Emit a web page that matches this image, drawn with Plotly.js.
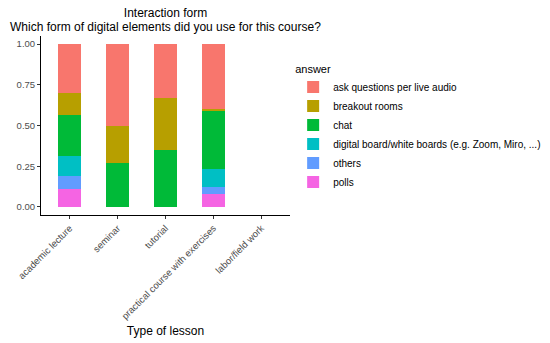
<!DOCTYPE html>
<html>
<head>
<meta charset="utf-8">
<script src="https://cdn.plot.ly/plotly-3.0.1.min.js"></script>
<style>html,body{margin:0;padding:0;background:#fff}#chart{width:550px;height:343px}</style>
</head>
<body>
<div id="chart"></div>
<script>
const categories = ["academic lecture", "seminar", "tutorial", "practical course with exercises", "labor/field work"];
const answers = ["ask questions per live audio", "breakout rooms", "chat", "digital board/white boards (e.g. Zoom, Miro, ...)", "others", "polls"];
const colors = ["#F8766D", "#B79F00", "#00BA38", "#00BFC4", "#619CFF", "#F564E3"];
const askQuestions = [0.30, 0.50, 0.33, 0.40, null];
const breakoutRooms = [0.135, 0.23, 0.32, 0.01, null];
const chat = [0.25, 0.27, 0.35, 0.355, null];
const digitalBoard = [0.125, 0, 0, 0.11, null];
const others = [0.08, 0, 0, 0.045, null];
const polls = [0.11, 0, 0, 0.08, null];
const series = [askQuestions, breakoutRooms, chat, digitalBoard, others, polls];
const yTicks = [0, 0.25, 0.5, 0.75, 1];
const yTickLabels = ["0.00", "0.25", "0.50", "0.75", "1.00"];
const titleText = "Interaction form";
const subtitleText = "Which form of digital elements did you use for this course?";

const font = "Liberation Sans, Arial, sans-serif";
const traces = [];
for (let i = answers.length - 1; i >= 0; i--) {
  traces.push({
    type: "bar",
    name: answers[i],
    x: categories,
    y: series[i],
    width: 0.48,
    marker: {color: colors[i], line: {width: 0}},
    hoverinfo: "x+y+name"
  });
}

const layout = {
  width: 550, height: 343,
  margin: {l: 41, r: 260, t: 36, b: 128},
  barmode: "stack",
  paper_bgcolor: "#fff", plot_bgcolor: "#fff",
  font: {family: font, color: "#000"},
  title: {
    text: titleText,
    font: {family: font, size: 12, color: "#000"},
    x: 0.5, xref: "paper", xanchor: "center",
    y: 0.962, yref: "container", yanchor: "middle"
  },
  annotations: [{
    text: subtitleText, showarrow: false,
    xref: "paper", yref: "paper", x: 0.5, y: 1.05,
    xanchor: "center", yanchor: "middle",
    font: {family: font, size: 12, color: "#000"}
  }],
  xaxis: {
    type: "category",
    range: [-0.6, 4.6],
    categoryarray: categories, categoryorder: "array",
    tickangle: -45,
    tickfont: {family: font, size: 9.5, color: "#4D4D4D"},
    ticks: "outside", ticklen: 3, tickcolor: "#333", tickwidth: 1,
    showline: true, linecolor: "#000", linewidth: 1,
    showgrid: false, zeroline: false,
    title: {text: "Type of lesson", font: {family: font, size: 12, color: "#000"}, standoff: 6}
  },
  yaxis: {
    range: [-0.05, 1.05],
    tickvals: yTicks, ticktext: yTickLabels,
    tickfont: {family: font, size: 9.5, color: "#4D4D4D"},
    ticks: "outside", ticklen: 3, tickcolor: "#333", tickwidth: 1,
    showline: true, linecolor: "#000", linewidth: 1,
    showgrid: false, zeroline: false
  },
  legend: {
    xref: "container", yref: "container",
    x: 0.533, xanchor: "left", y: 0.83, yanchor: "top",
    traceorder: "reversed",
    title: {text: "answer", font: {family: font, size: 11, color: "#000"}},
    font: {family: font, size: 10, color: "#000"},
    itemwidth: 30, tracegroupgap: 0
  },
  showlegend: true
};

Plotly.newPlot("chart", traces, layout, {displayModeBar: false, staticPlot: true});
</script>
</body>
</html>
